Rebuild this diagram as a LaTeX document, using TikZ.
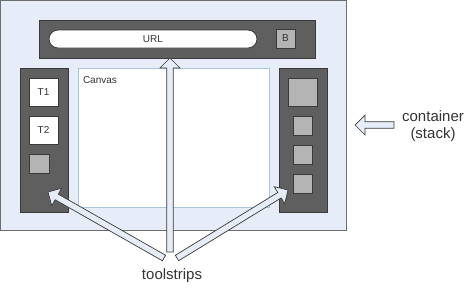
\documentclass[tikz,border=0pt]{standalone}
\usepackage{fontspec}
\setmainfont{Liberation Sans}
\usetikzlibrary{calc}
\definecolor{contfill}{HTML}{E6EDF8}
\definecolor{contline}{HTML}{6E6E6E}
\definecolor{stripfill}{HTML}{5F5F5F}
\definecolor{stripline}{HTML}{3A3A3A}
\definecolor{btnfill}{HTML}{B4B4B4}
\definecolor{canvline}{HTML}{A9C4DD}
\definecolor{txt}{HTML}{333333}
\newcommand\blockarr[2]{%
  \path let \p1=(#1), \p2=(#2) in coordinate (hb) at ($(#2)!10pt!(#1)$);
  \draw[arrowshape] ($(#1)!3.2pt!90:(#2)$) -- ($(hb)!3.2pt!-90:(#1)$) -- ($(hb)!10pt!-90:(#1)$) -- (#2)
     -- ($(hb)!10pt!90:(#1)$) -- ($(hb)!3.2pt!90:(#1)$) -- ($(#1)!3.2pt!-90:(#2)$) -- cycle;}
\begin{document}
\begin{tikzpicture}[x=1pt,y=-1pt,
  every node/.style={inner sep=0pt,outer sep=0pt},
  strip/.style={draw=stripline,fill=stripfill,line width=0.8pt},
  btn/.style={draw=stripline,fill=btnfill,line width=0.8pt},
  wbtn/.style={draw=stripline,fill=white,line width=0.8pt},
  arrowshape/.style={draw=stripline,fill=contfill,line width=0.7pt,line join=miter},
  lbl/.style={text=txt,font=\fontsize{10}{12}\selectfont},
  big/.style={text=txt,font=\fontsize{15}{17}\selectfont,align=center}]
\useasboundingbox (0,0) rectangle (466,289);
% container
\draw[draw=contline,fill=contfill,line width=0.8pt] (0.5,0.5) rectangle (346,230);
% top strip
\draw[strip] (39,20) rectangle (315,58);
\draw[wbtn,rounded corners=9pt] (49,30) rectangle (257,48);
\node[lbl] (url) at (153,39) {URL};
\draw[btn] (276,29) rectangle (295,48);
\node[lbl] (b) at (285.5,38.5) {B};
% left strip
\draw[strip] (20,68) rectangle (68,212);
\draw[wbtn] (29,78) rectangle (58,106);
\node[lbl] (t1) at (43.5,92) {T1};
\draw[wbtn] (29,116) rectangle (58,144);
\node[lbl] (t2) at (43.5,130) {T2};
\draw[btn] (29,154) rectangle (49,173);
% canvas
\draw[draw=canvline,fill=white,line width=0.8pt] (78,68) rectangle (269,207);
\node[lbl,anchor=west] (canvas) at (83,80) {Canvas};
% right strip
\draw[strip] (279,68) rectangle (327,212);
\draw[btn] (288,78) rectangle (317,106);
\draw[btn] (293,116) rectangle (312,135);
\draw[btn] (293,145) rectangle (312,164);
\draw[btn] (293,174) rectangle (312,193);
% labels
\node[big] (cont) at (433,126) {container\\(stack)};
\node[big] (ts) at (172,276) {toolstrips};
% arrow coordinates
\coordinate (vt) at (170,252);
\coordinate (vh) at (170,58);
\coordinate (lt) at (164,258);
\coordinate (lh) at (48,192);
\coordinate (rt) at (177,258);
\coordinate (rh) at (288,190);
\coordinate (ct) at (394,125);
\coordinate (ch) at (355,125);
\blockarr{vt}{vh}
\blockarr{lt}{lh}
\blockarr{rt}{rh}
\blockarr{ct}{ch}
\end{tikzpicture}
\end{document}
